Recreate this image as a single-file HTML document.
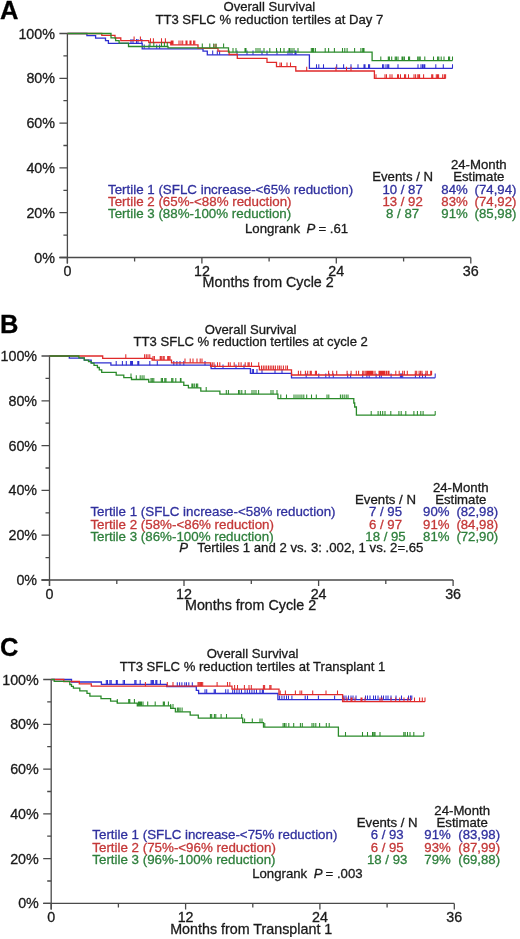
<!DOCTYPE html>
<html><head><meta charset="utf-8"><style>
html,body{margin:0;padding:0;background:#fff;}
svg{display:block;filter:blur(0.35px);}
text{font-family:"Liberation Sans", sans-serif;stroke-width:0.3px;}
.ax{font-size:14.3px;}
.t{font-size:13.1px;}
.lg{font-size:13.2px;}
.it{font-style:italic;}
.tl{font-size:13.35px;}
.L{font-size:25.5px;font-weight:bold;}
</style></head><body>
<svg width="520" height="939" viewBox="0 0 520 939">
<path d="M67.4,32.9V263.5M59.4,257.5H470.8" stroke="#4a4a4a" stroke-width="1.3" fill="none"/>
<path d="M59.4,33.5H67.4M63.4,55.9H67.4M59.4,78.3H67.4M63.4,100.7H67.4M59.4,123.1H67.4M63.4,145.5H67.4M59.4,167.9H67.4M63.4,190.3H67.4M59.4,212.7H67.4M63.4,235.1H67.4M59.4,257.5H67.4M67.4,257.5V263.5M134.6,257.5V261.5M201.9,257.5V263.5M269.1,257.5V261.5M336.3,257.5V263.5M403.6,257.5V261.5M470.8,257.5V263.5" stroke="#4a4a4a" stroke-width="1.3" fill="none"/>
<text x="55.0" y="38.5" class="ax" style="fill:#1a1a1a;stroke:#1a1a1a" text-anchor="end">100%</text>
<text x="55.0" y="83.3" class="ax" style="fill:#1a1a1a;stroke:#1a1a1a" text-anchor="end">80%</text>
<text x="55.0" y="128.1" class="ax" style="fill:#1a1a1a;stroke:#1a1a1a" text-anchor="end">60%</text>
<text x="55.0" y="172.9" class="ax" style="fill:#1a1a1a;stroke:#1a1a1a" text-anchor="end">40%</text>
<text x="55.0" y="217.7" class="ax" style="fill:#1a1a1a;stroke:#1a1a1a" text-anchor="end">20%</text>
<text x="55.0" y="262.5" class="ax" style="fill:#1a1a1a;stroke:#1a1a1a" text-anchor="end">0%</text>
<text x="67.4" y="276.1" class="ax" style="fill:#1a1a1a;stroke:#1a1a1a" text-anchor="middle">0</text>
<text x="201.9" y="276.1" class="ax" style="fill:#1a1a1a;stroke:#1a1a1a" text-anchor="middle">12</text>
<text x="336.3" y="276.1" class="ax" style="fill:#1a1a1a;stroke:#1a1a1a" text-anchor="middle">24</text>
<text x="470.8" y="276.1" class="ax" style="fill:#1a1a1a;stroke:#1a1a1a" text-anchor="middle">36</text>
<text x="202.6" y="287.4" class="ax" style="fill:#1a1a1a;stroke:#1a1a1a">Months from Cycle 2</text>
<text x="0.0" y="18.5" class="L" style="fill:#000;stroke:#000">A</text>
<text x="269.3" y="11.0" class="t" style="fill:#1a1a1a;stroke:#1a1a1a" text-anchor="middle">Overall Survival</text>
<text x="269.3" y="24.0" class="t" style="fill:#1a1a1a;stroke:#1a1a1a" text-anchor="middle">TT3 SFLC % reduction tertiles at Day 7</text>
<path d="M49.5,355.4V586.0M41.5,580.0H453.1" stroke="#4a4a4a" stroke-width="1.3" fill="none"/>
<path d="M41.5,356.0H49.5M45.5,378.4H49.5M41.5,400.8H49.5M45.5,423.2H49.5M41.5,445.6H49.5M45.5,468.0H49.5M41.5,490.4H49.5M45.5,512.8H49.5M41.5,535.2H49.5M45.5,557.6H49.5M41.5,580.0H49.5M49.5,580.0V586.0M116.8,580.0V584.0M184.0,580.0V586.0M251.3,580.0V584.0M318.6,580.0V586.0M385.8,580.0V584.0M453.1,580.0V586.0" stroke="#4a4a4a" stroke-width="1.3" fill="none"/>
<text x="37.1" y="361.0" class="ax" style="fill:#1a1a1a;stroke:#1a1a1a" text-anchor="end">100%</text>
<text x="37.1" y="405.8" class="ax" style="fill:#1a1a1a;stroke:#1a1a1a" text-anchor="end">80%</text>
<text x="37.1" y="450.6" class="ax" style="fill:#1a1a1a;stroke:#1a1a1a" text-anchor="end">60%</text>
<text x="37.1" y="495.4" class="ax" style="fill:#1a1a1a;stroke:#1a1a1a" text-anchor="end">40%</text>
<text x="37.1" y="540.2" class="ax" style="fill:#1a1a1a;stroke:#1a1a1a" text-anchor="end">20%</text>
<text x="37.1" y="585.0" class="ax" style="fill:#1a1a1a;stroke:#1a1a1a" text-anchor="end">0%</text>
<text x="49.5" y="598.6" class="ax" style="fill:#1a1a1a;stroke:#1a1a1a" text-anchor="middle">0</text>
<text x="184.0" y="598.6" class="ax" style="fill:#1a1a1a;stroke:#1a1a1a" text-anchor="middle">12</text>
<text x="318.6" y="598.6" class="ax" style="fill:#1a1a1a;stroke:#1a1a1a" text-anchor="middle">24</text>
<text x="453.1" y="598.6" class="ax" style="fill:#1a1a1a;stroke:#1a1a1a" text-anchor="middle">36</text>
<text x="185.0" y="610.0" class="ax" style="fill:#1a1a1a;stroke:#1a1a1a">Months from Cycle 2</text>
<text x="0.0" y="332.5" class="L" style="fill:#000;stroke:#000">B</text>
<text x="250.7" y="334.3" class="t" style="fill:#1a1a1a;stroke:#1a1a1a" text-anchor="middle">Overall Survival</text>
<text x="250.7" y="346.3" class="t" style="fill:#1a1a1a;stroke:#1a1a1a" text-anchor="middle">TT3 SFLC % reduction tertiles at cycle 2</text>
<path d="M51.2,678.9V909.4M43.2,903.4H454.3" stroke="#4a4a4a" stroke-width="1.3" fill="none"/>
<path d="M43.2,679.5H51.2M47.2,701.9H51.2M43.2,724.3H51.2M47.2,746.7H51.2M43.2,769.1H51.2M47.2,791.5H51.2M43.2,813.8H51.2M47.2,836.2H51.2M43.2,858.6H51.2M47.2,881.0H51.2M43.2,903.4H51.2M51.2,903.4V909.4M118.4,903.4V907.4M185.6,903.4V909.4M252.8,903.4V907.4M319.9,903.4V909.4M387.1,903.4V907.4M454.3,903.4V909.4" stroke="#4a4a4a" stroke-width="1.3" fill="none"/>
<text x="38.8" y="684.5" class="ax" style="fill:#1a1a1a;stroke:#1a1a1a" text-anchor="end">100%</text>
<text x="38.8" y="729.3" class="ax" style="fill:#1a1a1a;stroke:#1a1a1a" text-anchor="end">80%</text>
<text x="38.8" y="774.1" class="ax" style="fill:#1a1a1a;stroke:#1a1a1a" text-anchor="end">60%</text>
<text x="38.8" y="818.8" class="ax" style="fill:#1a1a1a;stroke:#1a1a1a" text-anchor="end">40%</text>
<text x="38.8" y="863.6" class="ax" style="fill:#1a1a1a;stroke:#1a1a1a" text-anchor="end">20%</text>
<text x="38.8" y="908.4" class="ax" style="fill:#1a1a1a;stroke:#1a1a1a" text-anchor="end">0%</text>
<text x="51.2" y="922.0" class="ax" style="fill:#1a1a1a;stroke:#1a1a1a" text-anchor="middle">0</text>
<text x="185.6" y="922.0" class="ax" style="fill:#1a1a1a;stroke:#1a1a1a" text-anchor="middle">12</text>
<text x="319.9" y="922.0" class="ax" style="fill:#1a1a1a;stroke:#1a1a1a" text-anchor="middle">24</text>
<text x="454.3" y="922.0" class="ax" style="fill:#1a1a1a;stroke:#1a1a1a" text-anchor="middle">36</text>
<text x="170.2" y="933.5" class="ax" style="fill:#1a1a1a;stroke:#1a1a1a">Months from Transplant 1</text>
<text x="0.0" y="655.8" class="L" style="fill:#000;stroke:#000">C</text>
<text x="252.5" y="658.0" class="t" style="fill:#1a1a1a;stroke:#1a1a1a" text-anchor="middle">Overall Survival</text>
<text x="252.5" y="670.5" class="t" style="fill:#1a1a1a;stroke:#1a1a1a" text-anchor="middle">TT3 SFLC % reduction tertiles at Transplant 1</text>
<path d="M67.4,33.5H86.9V35.7H95.6V38.1H105.5V40.7H108.4V43.3H142.2V48.8H203.0V51.1H207.3V54.8H309.4V68.4H452.5" stroke="#2f2fd0" stroke-width="1.3" fill="none"/><path d="M131.0,39.1V43.3M133.0,39.1V43.3M136.5,39.1V43.3M138.0,39.1V43.3M141.8,39.1V43.3M144.2,44.6V48.8M149.0,44.6V48.8M156.7,44.6V48.8M159.6,44.6V48.8M212.7,50.6V54.8M217.3,50.6V54.8M219.6,50.6V54.8M237.0,50.6V54.8M247.0,50.6V54.8M253.0,50.6V54.8M262.0,50.6V54.8M267.0,50.6V54.8M277.0,50.6V54.8M288.0,50.6V54.8M290.0,50.6V54.8M292.0,50.6V54.8M295.0,50.6V54.8M296.0,50.6V54.8M316.5,64.2V68.4M318.8,64.2V68.4M323.5,64.2V68.4M336.7,64.2V68.4M343.6,64.2V68.4M351.0,64.2V68.4M358.0,64.2V68.4M364.0,64.2V68.4M365.0,64.2V68.4M368.5,64.2V68.4M369.6,64.2V68.4M382.5,64.2V68.4M383.7,64.2V68.4M386.0,64.2V68.4M387.7,64.2V68.4M388.8,64.2V68.4M398.0,64.2V68.4M418.0,64.2V68.4M421.0,64.2V68.4M422.5,64.2V68.4M423.8,64.2V68.4M424.8,64.2V68.4M435.8,64.2V68.4M443.3,64.2V68.4M452.5,64.2V68.4" stroke="#2f2fd0" stroke-width="1.05" fill="none"/>
<path d="M67.4,33.5H101.8V35.3H115.0V38.0H120.8V40.6H148.8V42.5H170.8V44.8H198.0V48.3H218.0V51.1H229.1V54.5H237.3V58.3H267.0V62.3H276.5V66.6H295.8V71.0H374.4V78.4H445.6" stroke="#e02a2a" stroke-width="1.3" fill="none"/><path d="M134.1,36.4V40.6M140.4,36.4V40.6M150.5,38.3V42.5M153.4,38.3V42.5M161.5,38.3V42.5M165.4,38.3V42.5M171.2,40.6V44.8M172.0,40.6V44.8M173.0,40.6V44.8M179.0,40.6V44.8M181.0,40.6V44.8M182.7,40.6V44.8M186.0,40.6V44.8M187.0,40.6V44.8M190.0,40.6V44.8M191.0,40.6V44.8M193.6,40.6V44.8M194.8,40.6V44.8M214.0,44.1V48.3M216.0,44.1V48.3M280.0,62.4V66.6M281.5,62.4V66.6M287.0,62.4V66.6M290.5,62.4V66.6M306.7,66.8V71.0M336.0,66.8V71.0M346.5,66.8V71.0M351.0,66.8V71.0M376.0,74.2V78.4M385.0,74.2V78.4M386.5,74.2V78.4M390.0,74.2V78.4M392.0,74.2V78.4M397.5,74.2V78.4M398.5,74.2V78.4M400.5,74.2V78.4M404.5,74.2V78.4M405.6,74.2V78.4M408.5,74.2V78.4M414.0,74.2V78.4M417.8,74.2V78.4M419.0,74.2V78.4M415.6,74.2V78.4M419.6,74.2V78.4M423.6,74.2V78.4M431.7,74.2V78.4M432.8,74.2V78.4M436.3,74.2V78.4M437.5,74.2V78.4M438.6,74.2V78.4M442.7,74.2V78.4M444.4,74.2V78.4M445.6,74.2V78.4" stroke="#e02a2a" stroke-width="1.05" fill="none"/>
<path d="M67.4,33.5H111.0V37.8H115.6V40.6H119.1V43.1H128.5V46.5H168.0V47.8H228.5V52.2H372.1V60.6H452.5" stroke="#2a8a2a" stroke-width="1.3" fill="none"/><path d="M150.0,42.3V46.5M153.8,42.3V46.5M161.5,42.3V46.5M164.4,42.3V46.5M167.3,42.3V46.5M202.3,43.6V47.8M209.8,43.6V47.8M213.8,43.6V47.8M216.0,43.6V47.8M223.6,43.6V47.8M233.0,48.0V52.2M236.0,48.0V52.2M245.0,48.0V52.2M246.0,48.0V52.2M256.0,48.0V52.2M258.0,48.0V52.2M260.0,48.0V52.2M264.0,48.0V52.2M269.8,48.0V52.2M276.5,48.0V52.2M280.5,48.0V52.2M284.0,48.0V52.2M289.0,48.0V52.2M290.0,48.0V52.2M292.0,48.0V52.2M294.0,48.0V52.2M298.0,48.0V52.2M311.3,48.0V52.2M312.5,48.0V52.2M313.6,48.0V52.2M315.4,48.0V52.2M325.2,48.0V52.2M328.6,48.0V52.2M334.4,48.0V52.2M342.5,48.0V52.2M344.8,48.0V52.2M347.1,48.0V52.2M354.6,48.0V52.2M360.9,48.0V52.2M362.7,48.0V52.2M363.0,48.0V52.2M364.0,48.0V52.2M380.8,56.4V60.6M388.3,56.4V60.6M389.4,56.4V60.6M391.7,56.4V60.6M395.2,56.4V60.6M396.4,56.4V60.6M398.0,56.4V60.6M402.0,56.4V60.6M403.0,56.4V60.6M404.4,56.4V60.6M408.5,56.4V60.6M409.6,56.4V60.6M417.7,56.4V60.6M419.0,56.4V60.6M420.2,56.4V60.6M424.8,56.4V60.6M433.5,56.4V60.6M437.6,56.4V60.6M438.8,56.4V60.6M441.2,56.4V60.6M444.0,56.4V60.6M448.5,56.4V60.6M449.6,56.4V60.6M452.5,56.4V60.6" stroke="#2a8a2a" stroke-width="1.05" fill="none"/>
<path d="M49.5,356.0H69.3V358.2H84.3V360.2H91.2V362.8H110.9V365.2H211.1V368.7H250.4V373.3H291.5V377.8H435.2" stroke="#2f2fd0" stroke-width="1.3" fill="none"/><path d="M116.2,361.0V365.2M122.4,361.0V365.2M126.3,361.0V365.2M130.6,361.0V365.2M131.5,361.0V365.2M132.5,361.0V365.2M137.8,361.0V365.2M138.8,361.0V365.2M149.8,361.0V365.2M157.3,361.0V365.2M173.8,361.0V365.2M176.9,361.0V365.2M180.0,361.0V365.2M183.8,361.0V365.2M205.0,361.0V365.2M215.0,364.5V368.7M223.0,364.5V368.7M236.0,364.5V368.7M244.0,364.5V368.7M252.3,369.1V373.3M253.5,369.1V373.3M257.0,369.1V373.3M262.0,369.1V373.3M275.0,369.1V373.3M282.0,369.1V373.3M306.2,373.6V377.8M318.8,373.6V377.8M325.8,373.6V377.8M329.2,373.6V377.8M333.3,373.6V377.8M347.7,373.6V377.8M350.6,373.6V377.8M362.7,373.6V377.8M366.9,373.6V377.8M369.2,373.6V377.8M376.1,373.6V377.8M379.6,373.6V377.8M381.3,373.6V377.8M391.1,373.6V377.8M400.4,373.6V377.8M401.5,373.6V377.8M402.7,373.6V377.8M415.4,373.6V377.8M419.6,373.6V377.8M422.5,373.6V377.8M425.4,373.6V377.8M435.2,373.6V377.8" stroke="#2f2fd0" stroke-width="1.05" fill="none"/>
<path d="M49.5,356.0H102.7V358.4H152.1V360.1H171.5V362.8H210.6V366.4H259.4V369.8H291.5V375.0H431.6" stroke="#e02a2a" stroke-width="1.3" fill="none"/><path d="M125.8,354.2V358.4M144.6,354.2V358.4M146.3,354.2V358.4M148.0,354.2V358.4M149.8,354.2V358.4M153.0,355.9V360.1M154.4,355.9V360.1M160.2,355.9V360.1M161.3,355.9V360.1M163.0,355.9V360.1M164.2,355.9V360.1M167.7,355.9V360.1M168.8,355.9V360.1M170.0,355.9V360.1M185.0,358.6V362.8M190.2,358.6V362.8M193.0,358.6V362.8M197.0,358.6V362.8M200.2,358.6V362.8M202.0,358.6V362.8M212.3,362.2V366.4M214.0,362.2V366.4M217.5,362.2V366.4M219.8,362.2V366.4M228.4,362.2V366.4M230.2,362.2V366.4M234.2,362.2V366.4M238.8,362.2V366.4M241.1,362.2V366.4M245.2,362.2V366.4M248.0,362.2V366.4M249.2,362.2V366.4M251.5,362.2V366.4M258.7,362.2V366.4M261.5,365.6V369.8M263.3,365.6V369.8M265.0,365.6V369.8M266.7,365.6V369.8M268.5,365.6V369.8M270.2,365.6V369.8M271.9,365.6V369.8M273.6,365.6V369.8M275.4,365.6V369.8M277.7,365.6V369.8M279.4,365.6V369.8M281.1,365.6V369.8M283.4,365.6V369.8M285.8,365.6V369.8M287.5,365.6V369.8M298.4,370.8V375.0M300.7,370.8V375.0M305.4,370.8V375.0M307.7,370.8V375.0M310.2,370.8V375.0M311.3,370.8V375.0M315.4,370.8V375.0M316.5,370.8V375.0M328.6,370.8V375.0M332.7,370.8V375.0M336.7,370.8V375.0M347.1,370.8V375.0M351.1,370.8V375.0M356.3,370.8V375.0M358.6,370.8V375.0M362.7,370.8V375.0M364.0,370.8V375.0M365.8,370.8V375.0M367.0,370.8V375.0M368.0,370.8V375.0M369.0,370.8V375.0M370.0,370.8V375.0M371.0,370.8V375.0M372.0,370.8V375.0M373.0,370.8V375.0M375.0,370.8V375.0M379.0,370.8V375.0M380.0,370.8V375.0M381.0,370.8V375.0M382.0,370.8V375.0M383.0,370.8V375.0M384.0,370.8V375.0M385.0,370.8V375.0M386.5,370.8V375.0M388.0,370.8V375.0M389.0,370.8V375.0M395.8,370.8V375.0M399.2,370.8V375.0M402.7,370.8V375.0M404.4,370.8V375.0M407.3,370.8V375.0M415.3,370.8V375.0M416.7,370.8V375.0M419.1,370.8V375.0M420.6,370.8V375.0M422.0,370.8V375.0M425.9,370.8V375.0M427.3,370.8V375.0M430.7,370.8V375.0M431.6,370.8V375.0" stroke="#e02a2a" stroke-width="1.05" fill="none"/>
<path d="M49.5,356.0H78.9V357.8H84.3V360.1H88.5V361.6H91.2V363.2H94.0V365.3H97.4V367.5H99.3V369.9H101.7V372.3H116.2V375.2H123.8V377.6H131.5V379.5H148.7V382.2H183.8V385.4H188.4V387.8H200.8V391.2H219.9V394.2H277.9V398.7H353.8V403.0H354.7V407.0H356.4V415.2H435.2" stroke="#2a8a2a" stroke-width="1.3" fill="none"/><path d="M131.0,373.4V377.6M136.3,375.3V379.5M140.2,375.3V379.5M142.1,375.3V379.5M144.0,375.3V379.5M151.0,378.0V382.2M152.3,378.0V382.2M153.8,378.0V382.2M161.3,378.0V382.2M162.5,378.0V382.2M164.8,378.0V382.2M166.0,378.0V382.2M171.7,378.0V382.2M172.9,378.0V382.2M175.8,378.0V382.2M180.4,378.0V382.2M181.0,378.0V382.2M191.9,383.6V387.8M193.0,383.6V387.8M194.7,383.6V387.8M196.5,383.6V387.8M197.7,383.6V387.8M206.2,387.0V391.2M226.3,390.0V394.2M228.4,390.0V394.2M238.5,390.0V394.2M239.8,390.0V394.2M241.8,390.0V394.2M245.2,390.0V394.2M252.0,390.0V394.2M254.0,390.0V394.2M256.0,390.0V394.2M258.6,390.0V394.2M271.0,390.0V394.2M273.0,390.0V394.2M277.0,390.0V394.2M280.8,394.5V398.7M286.5,394.5V398.7M294.0,394.5V398.7M296.0,394.5V398.7M298.0,394.5V398.7M300.0,394.5V398.7M301.9,394.5V398.7M303.8,394.5V398.7M306.7,394.5V398.7M311.5,394.5V398.7M316.3,394.5V398.7M327.0,394.5V398.7M328.8,394.5V398.7M340.4,394.5V398.7M342.3,394.5V398.7M344.2,394.5V398.7M346.2,394.5V398.7M348.0,394.5V398.7M371.2,411.0V415.2M378.1,411.0V415.2M380.4,411.0V415.2M382.7,411.0V415.2M385.0,411.0V415.2M390.8,411.0V415.2M398.9,411.0V415.2M401.2,411.0V415.2M405.8,411.0V415.2M413.9,411.0V415.2M417.4,411.0V415.2M420.8,411.0V415.2M423.1,411.0V415.2M435.2,411.0V415.2" stroke="#2a8a2a" stroke-width="1.05" fill="none"/>
<path d="M51.2,679.5H71.5V682.0H101.4V684.3H166.7V686.5H196.3V690.4H198.6V693.5H277.9V699.6H411.8" stroke="#2f2fd0" stroke-width="1.3" fill="none"/><path d="M106.3,680.1V684.3M107.5,680.1V684.3M109.9,680.1V684.3M111.2,680.1V684.3M116.3,680.1V684.3M117.3,680.1V684.3M123.2,680.1V684.3M124.5,680.1V684.3M134.8,680.1V684.3M136.0,680.1V684.3M140.2,680.1V684.3M151.1,680.1V684.3M152.3,680.1V684.3M153.4,680.1V684.3M155.8,680.1V684.3M156.9,680.1V684.3M160.4,680.1V684.3M177.3,682.3V686.5M179.6,682.3V686.5M181.9,682.3V686.5M184.8,682.3V686.5M186.5,682.3V686.5M188.8,682.3V686.5M192.3,682.3V686.5M205.0,689.3V693.5M206.7,689.3V693.5M214.2,689.3V693.5M215.4,689.3V693.5M225.7,689.3V693.5M228.0,689.3V693.5M232.7,689.3V693.5M234.6,689.3V693.5M236.9,689.3V693.5M239.2,689.3V693.5M241.5,689.3V693.5M245.0,689.3V693.5M247.3,689.3V693.5M249.6,689.3V693.5M251.9,689.3V693.5M254.2,689.3V693.5M256.5,689.3V693.5M260.0,689.3V693.5M262.3,689.3V693.5M263.4,689.3V693.5M279.6,695.4V699.6M281.9,695.4V699.6M284.2,695.4V699.6M286.5,695.4V699.6M288.5,695.4V699.6M291.9,695.4V699.6M305.2,695.4V699.6M307.5,695.4V699.6M318.4,695.4V699.6M334.6,695.4V699.6M342.7,695.4V699.6M344.0,695.4V699.6M346.0,695.4V699.6M348.5,695.4V699.6M351.0,695.4V699.6M353.0,695.4V699.6M356.0,695.4V699.6M365.5,695.4V699.6M367.5,695.4V699.6M370.0,695.4V699.6M373.5,695.4V699.6M375.5,695.4V699.6M378.0,695.4V699.6M381.5,695.4V699.6M383.5,695.4V699.6M386.0,695.4V699.6M388.0,695.4V699.6M391.0,695.4V699.6M396.0,695.4V699.6M401.5,695.4V699.6M408.5,695.4V699.6M410.5,695.4V699.6M411.8,695.4V699.6" stroke="#2f2fd0" stroke-width="1.05" fill="none"/>
<path d="M51.2,679.5H63.8V681.5H79.3V683.8H91.3V686.2H232.0V689.2H279.0V694.6H342.6V701.7H425.0" stroke="#e02a2a" stroke-width="1.3" fill="none"/><path d="M145.4,682.0V686.2M167.3,682.0V686.2M173.0,682.0V686.2M198.0,682.0V686.2M199.2,682.0V686.2M200.4,682.0V686.2M201.5,682.0V686.2M202.7,682.0V686.2M217.1,682.0V686.2M227.5,682.0V686.2M229.8,682.0V686.2M234.6,685.0V689.2M237.5,685.0V689.2M244.4,685.0V689.2M249.0,685.0V689.2M251.3,685.0V689.2M263.4,685.0V689.2M264.6,685.0V689.2M269.8,685.0V689.2M271.0,685.0V689.2M280.2,690.4V694.6M285.4,690.4V694.6M295.4,690.4V694.6M300.0,690.4V694.6M301.7,690.4V694.6M312.7,690.4V694.6M326.0,690.4V694.6M337.5,690.4V694.6M344.0,697.5V701.7M347.0,697.5V701.7M351.0,697.5V701.7M352.0,697.5V701.7M355.0,697.5V701.7M361.0,697.5V701.7M362.0,697.5V701.7M365.0,697.5V701.7M380.0,697.5V701.7M382.0,697.5V701.7M391.0,697.5V701.7M395.7,697.5V701.7M399.7,697.5V701.7M404.0,697.5V701.7M407.8,697.5V701.7M410.4,697.5V701.7M414.5,697.5V701.7M419.6,697.5V701.7M422.3,697.5V701.7M425.0,697.5V701.7" stroke="#e02a2a" stroke-width="1.05" fill="none"/>
<path d="M51.2,679.5H54.2V681.3H69.8V684.5H71.5V686.3H73.4V688.2H79.8V690.9H87.0V693.3H89.9V696.2H101.0V698.6H110.6V701.2H117.3V703.2H137.3V705.8H170.7V708.3H175.4V711.8H190.2V715.1H198.3V718.2H242.7V722.7H263.5V727.1H338.4V736.2H423.8" stroke="#2a8a2a" stroke-width="1.3" fill="none"/><path d="M117.3,699.0V703.2M128.7,699.0V703.2M129.8,699.0V703.2M134.4,699.0V703.2M138.5,701.6V705.8M139.5,701.6V705.8M140.5,701.6V705.8M141.5,701.6V705.8M143.0,701.6V705.8M147.7,701.6V705.8M155.2,701.6V705.8M163.3,701.6V705.8M164.4,701.6V705.8M168.4,701.6V705.8M170.7,704.1V708.3M173.0,704.1V708.3M177.4,707.6V711.8M178.7,707.6V711.8M180.1,707.6V711.8M182.1,707.6V711.8M210.4,714.0V718.2M211.7,714.0V718.2M214.4,714.0V718.2M215.8,714.0V718.2M221.1,714.0V718.2M226.5,714.0V718.2M241.7,714.0V718.2M244.6,718.5V722.7M252.3,718.5V722.7M260.0,718.5V722.7M262.0,718.5V722.7M264.8,722.9V727.1M283.1,722.9V727.1M284.5,722.9V727.1M286.0,722.9V727.1M288.8,722.9V727.1M293.7,722.9V727.1M300.4,722.9V727.1M302.3,722.9V727.1M312.0,722.9V727.1M313.8,722.9V727.1M315.8,722.9V727.1M319.6,722.9V727.1M326.3,722.9V727.1M329.2,722.9V727.1M345.5,732.0V736.2M362.5,732.0V736.2M367.5,732.0V736.2M372.5,732.0V736.2M373.8,732.0V736.2M375.0,732.0V736.2M380.0,732.0V736.2M403.8,732.0V736.2M405.2,732.0V736.2M407.5,732.0V736.2M410.0,732.0V736.2M413.8,732.0V736.2M423.8,732.0V736.2" stroke="#2a8a2a" stroke-width="1.05" fill="none"/>
<text x="108.0" y="193.5" class="lg tl" style="fill:#30309e;stroke:#30309e">Tertile 1 (SFLC increase-&lt;65% reduction)</text>
<text x="402.6" y="193.5" class="lg" style="fill:#30309e;stroke:#30309e" text-anchor="middle">10 / 87</text>
<text x="441.3" y="193.5" class="lg" style="fill:#30309e;stroke:#30309e">84%</text>
<text x="474.6" y="193.5" class="lg" style="fill:#30309e;stroke:#30309e">(74,94)</text>
<text x="108.0" y="205.8" class="lg tl" style="fill:#c43838;stroke:#c43838">Tertile 2 (65%-&lt;88% reduction)</text>
<text x="402.6" y="205.8" class="lg" style="fill:#c43838;stroke:#c43838" text-anchor="middle">13 / 92</text>
<text x="441.3" y="205.8" class="lg" style="fill:#c43838;stroke:#c43838">83%</text>
<text x="474.6" y="205.8" class="lg" style="fill:#c43838;stroke:#c43838">(74,92)</text>
<text x="108.0" y="218.1" class="lg tl" style="fill:#2e7f3c;stroke:#2e7f3c">Tertile 3 (88%-100% reduction)</text>
<text x="402.6" y="218.1" class="lg" style="fill:#2e7f3c;stroke:#2e7f3c" text-anchor="middle">8 / 87</text>
<text x="441.3" y="218.1" class="lg" style="fill:#2e7f3c;stroke:#2e7f3c">91%</text>
<text x="474.6" y="218.1" class="lg" style="fill:#2e7f3c;stroke:#2e7f3c">(85,98)</text>
<text x="402.6" y="181.3" class="lg" style="fill:#1a1a1a;stroke:#1a1a1a" text-anchor="middle">Events / N</text>
<text x="478.8" y="169.1" class="lg" style="fill:#1a1a1a;stroke:#1a1a1a" text-anchor="middle">24-Month</text>
<text x="478.8" y="181.3" class="lg" style="fill:#1a1a1a;stroke:#1a1a1a" text-anchor="middle">Estimate</text>
<text x="245.0" y="233.0" class="lg" style="fill:#1a1a1a;stroke:#1a1a1a">Longrank</text>
<text x="306.6" y="233.0" class="lg it" style="fill:#1a1a1a;stroke:#1a1a1a">P</text>
<text x="318.5" y="233.0" class="lg" style="fill:#1a1a1a;stroke:#1a1a1a">= .61</text>
<text x="90.4" y="516.4" class="lg tl" style="fill:#30309e;stroke:#30309e">Tertile 1 (SFLC increase-&lt;58% reduction)</text>
<text x="385.5" y="516.4" class="lg" style="fill:#30309e;stroke:#30309e" text-anchor="middle">7 / 95</text>
<text x="423.1" y="516.4" class="lg" style="fill:#30309e;stroke:#30309e">90%</text>
<text x="456.4" y="516.4" class="lg" style="fill:#30309e;stroke:#30309e">(82,98)</text>
<text x="90.4" y="528.7" class="lg tl" style="fill:#c43838;stroke:#c43838">Tertile 2 (58%-&lt;86% reduction)</text>
<text x="385.5" y="528.7" class="lg" style="fill:#c43838;stroke:#c43838" text-anchor="middle">6 / 97</text>
<text x="423.1" y="528.7" class="lg" style="fill:#c43838;stroke:#c43838">91%</text>
<text x="456.4" y="528.7" class="lg" style="fill:#c43838;stroke:#c43838">(84,98)</text>
<text x="90.4" y="541.0" class="lg tl" style="fill:#2e7f3c;stroke:#2e7f3c">Tertile 3 (86%-100% reduction)</text>
<text x="385.5" y="541.0" class="lg" style="fill:#2e7f3c;stroke:#2e7f3c" text-anchor="middle">18 / 95</text>
<text x="423.1" y="541.0" class="lg" style="fill:#2e7f3c;stroke:#2e7f3c">81%</text>
<text x="456.4" y="541.0" class="lg" style="fill:#2e7f3c;stroke:#2e7f3c">(72,90)</text>
<text x="385.5" y="504.2" class="lg" style="fill:#1a1a1a;stroke:#1a1a1a" text-anchor="middle">Events / N</text>
<text x="460.8" y="492.0" class="lg" style="fill:#1a1a1a;stroke:#1a1a1a" text-anchor="middle">24-Month</text>
<text x="460.8" y="504.2" class="lg" style="fill:#1a1a1a;stroke:#1a1a1a" text-anchor="middle">Estimate</text>
<text x="179.3" y="552.4" class="lg it" style="fill:#1a1a1a;stroke:#1a1a1a">P</text>
<text x="197.3" y="552.4" class="lg" style="fill:#1a1a1a;stroke:#1a1a1a">Tertiles 1 and 2 vs. 3: .002, 1 vs. 2=.65</text>
<text x="92.3" y="839.4" class="lg tl" style="fill:#30309e;stroke:#30309e">Tertile 1 (SFLC increase-&lt;75% reduction)</text>
<text x="387.2" y="839.4" class="lg" style="fill:#30309e;stroke:#30309e" text-anchor="middle">6 / 93</text>
<text x="424.3" y="839.4" class="lg" style="fill:#30309e;stroke:#30309e">91%</text>
<text x="458.3" y="839.4" class="lg" style="fill:#30309e;stroke:#30309e">(83,98)</text>
<text x="92.3" y="851.7" class="lg tl" style="fill:#c43838;stroke:#c43838">Tertile 2 (75%-&lt;96% reduction)</text>
<text x="387.2" y="851.7" class="lg" style="fill:#c43838;stroke:#c43838" text-anchor="middle">6 / 95</text>
<text x="424.3" y="851.7" class="lg" style="fill:#c43838;stroke:#c43838">93%</text>
<text x="458.3" y="851.7" class="lg" style="fill:#c43838;stroke:#c43838">(87,99)</text>
<text x="92.3" y="864.0" class="lg tl" style="fill:#2e7f3c;stroke:#2e7f3c">Tertile 3 (96%-100% reduction)</text>
<text x="387.2" y="864.0" class="lg" style="fill:#2e7f3c;stroke:#2e7f3c" text-anchor="middle">18 / 93</text>
<text x="424.3" y="864.0" class="lg" style="fill:#2e7f3c;stroke:#2e7f3c">79%</text>
<text x="458.3" y="864.0" class="lg" style="fill:#2e7f3c;stroke:#2e7f3c">(69,88)</text>
<text x="387.2" y="827.2" class="lg" style="fill:#1a1a1a;stroke:#1a1a1a" text-anchor="middle">Events / N</text>
<text x="462.2" y="815.0" class="lg" style="fill:#1a1a1a;stroke:#1a1a1a" text-anchor="middle">24-Month</text>
<text x="462.2" y="827.2" class="lg" style="fill:#1a1a1a;stroke:#1a1a1a" text-anchor="middle">Estimate</text>
<text x="252.2" y="878.0" class="lg" style="fill:#1a1a1a;stroke:#1a1a1a">Longrank</text>
<text x="313.7" y="878.0" class="lg it" style="fill:#1a1a1a;stroke:#1a1a1a">P</text>
<text x="325.6" y="878.0" class="lg" style="fill:#1a1a1a;stroke:#1a1a1a">= .003</text>
</svg>
</body></html>
